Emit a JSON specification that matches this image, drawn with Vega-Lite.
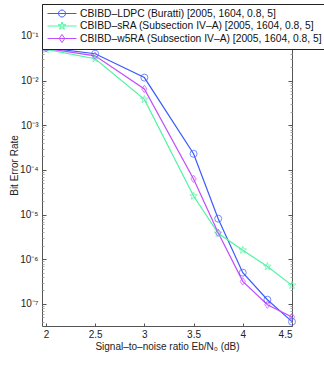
{
  "$schema": "https://vega.github.io/schema/vega-lite/v6.json",
  "width": 250,
  "height": 322,
  "autosize": "none",
  "padding": {"left": 42, "top": 4, "right": 32, "bottom": 44},
  "background": "white",
  "config": {
    "font": "Liberation Sans",
    "view": {"stroke": "#555", "strokeWidth": 1},
    "axis": {"grid": false, "domain": false, "labelFont": "Liberation Sans", "titleFont": "Liberation Sans", "labelColor": "#222", "titleColor": "#222", "labelFontSize": 10, "titleFontSize": 10, "titleFontWeight": "normal"}
  },
  "data": {"values": [
    {"snr": 2.0, "ber": 0.055, "s": "CBIBD–LDPC (Buratti) [2005, 1604, 0.8, 5]"},
    {"snr": 2.5, "ber": 0.040, "s": "CBIBD–LDPC (Buratti) [2005, 1604, 0.8, 5]"},
    {"snr": 3.0, "ber": 0.0117, "s": "CBIBD–LDPC (Buratti) [2005, 1604, 0.8, 5]"},
    {"snr": 3.5, "ber": 0.00023, "s": "CBIBD–LDPC (Buratti) [2005, 1604, 0.8, 5]"},
    {"snr": 3.75, "ber": 8.1e-6, "s": "CBIBD–LDPC (Buratti) [2005, 1604, 0.8, 5]"},
    {"snr": 4.0, "ber": 5.0e-7, "s": "CBIBD–LDPC (Buratti) [2005, 1604, 0.8, 5]"},
    {"snr": 4.25, "ber": 1.24e-7, "s": "CBIBD–LDPC (Buratti) [2005, 1604, 0.8, 5]"},
    {"snr": 4.5, "ber": 4.0e-8, "s": "CBIBD–LDPC (Buratti) [2005, 1604, 0.8, 5]"},
    {"snr": 2.0, "ber": 0.050, "s": "CBIBD–sRA (Subsection IV–A) [2005, 1604, 0.8, 5]"},
    {"snr": 2.5, "ber": 0.031, "s": "CBIBD–sRA (Subsection IV–A) [2005, 1604, 0.8, 5]"},
    {"snr": 3.0, "ber": 0.0038, "s": "CBIBD–sRA (Subsection IV–A) [2005, 1604, 0.8, 5]"},
    {"snr": 3.5, "ber": 2.6e-5, "s": "CBIBD–sRA (Subsection IV–A) [2005, 1604, 0.8, 5]"},
    {"snr": 3.75, "ber": 3.8e-6, "s": "CBIBD–sRA (Subsection IV–A) [2005, 1604, 0.8, 5]"},
    {"snr": 4.0, "ber": 1.6e-6, "s": "CBIBD–sRA (Subsection IV–A) [2005, 1604, 0.8, 5]"},
    {"snr": 4.25, "ber": 6.9e-7, "s": "CBIBD–sRA (Subsection IV–A) [2005, 1604, 0.8, 5]"},
    {"snr": 4.5, "ber": 2.6e-7, "s": "CBIBD–sRA (Subsection IV–A) [2005, 1604, 0.8, 5]"},
    {"snr": 2.0, "ber": 0.053, "s": "CBIBD–w5RA (Subsection IV–A) [2005, 1604, 0.8, 5]"},
    {"snr": 2.5, "ber": 0.036, "s": "CBIBD–w5RA (Subsection IV–A) [2005, 1604, 0.8, 5]"},
    {"snr": 3.0, "ber": 0.0065, "s": "CBIBD–w5RA (Subsection IV–A) [2005, 1604, 0.8, 5]"},
    {"snr": 3.5, "ber": 6.3e-5, "s": "CBIBD–w5RA (Subsection IV–A) [2005, 1604, 0.8, 5]"},
    {"snr": 3.75, "ber": 3.9e-6, "s": "CBIBD–w5RA (Subsection IV–A) [2005, 1604, 0.8, 5]"},
    {"snr": 4.0, "ber": 3.2e-7, "s": "CBIBD–w5RA (Subsection IV–A) [2005, 1604, 0.8, 5]"},
    {"snr": 4.25, "ber": 9.6e-8, "s": "CBIBD–w5RA (Subsection IV–A) [2005, 1604, 0.8, 5]"},
    {"snr": 4.5, "ber": 5.1e-8, "s": "CBIBD–w5RA (Subsection IV–A) [2005, 1604, 0.8, 5]"}
  ]},
  "encoding": {
    "x": {"field": "snr", "type": "quantitative", "axis": null, "scale": {"domain": [1.96, 4.5], "nice": false, "zero": false}},
    "y": {"field": "ber", "type": "quantitative", "axis": null, "scale": {"type": "log", "domain": [3.2e-8, 0.52], "nice": false}},
    "color": {
      "field": "s", "type": "nominal",
      "scale": {"domain": ["CBIBD–LDPC (Buratti) [2005, 1604, 0.8, 5]", "CBIBD–sRA (Subsection IV–A) [2005, 1604, 0.8, 5]", "CBIBD–w5RA (Subsection IV–A) [2005, 1604, 0.8, 5]"], "range": ["#3b5bff", "#4ff5a3", "#c24cff"]},
      "legend": {
        "title": null, "orient": "none", "legendX": 0, "legendY": 0,
        "fillColor": "white", "strokeColor": "#222", "padding": 4,
        "symbolSize": 100, "symbolStrokeWidth": 1, "symbolOffset": 0,
        "labelFont": "Liberation Sans", "labelFontSize": 10.3, "labelColor": "#111", "labelOffset": 23, "rowPadding": 0.5, "labelLimit": 400,
        "encode": {"symbols": {"update": {"shape": {"signal": "indexof(datum.value, 'LDPC') >= 0 ? 'M-0.8,0H5M1.4,0A0.7,0.7 0 1,1 2.8,0A0.7,0.7 0 1,1 1.4,0Z' : (indexof(datum.value, 'sRA') >= 0 ? 'M-0.8,0H5M2.1,-0.8L2.28,-0.247L2.861,-0.247L2.39,0.094L2.57,0.647L2.1,0.306L1.63,0.647L1.81,0.094L1.339,-0.247L1.92,-0.247Z' : 'M-0.8,0H5M2.1,-0.8L2.66,0L2.1,0.8L1.54,0Z')"}}}}
      }
    }
  },
  "layer": [
    {
      "mark": {"type": "line", "strokeWidth": 1.2},
      "encoding": {
        "x": {"field": "snr", "type": "quantitative", "scale": {"domain": [1.96, 4.5], "nice": false, "zero": false}, "axis": {"orient": "bottom", "values": [2, 2.5, 3, 3.5, 4, 4.5], "format": "~g", "title": "Signal–to–noise ratio Eb/N₀ (dB)", "tickSize": -3, "tickColor": "#555", "labelPadding": 6, "titlePadding": 2}},
        "y": {"field": "ber", "type": "quantitative", "scale": {"type": "log", "domain": [3.2e-8, 0.52], "nice": false}, "axis": {"orient": "left", "values": [1e-8, 2e-8, 3e-8, 4e-8, 5e-8, 6e-8, 7e-8, 8e-8, 9e-8, 1e-7, 2e-7, 3e-7, 4e-7, 5e-7, 6e-7, 7e-7, 8e-7, 9e-7, 1e-6, 2e-6, 3e-6, 4e-6, 5e-6, 6e-6, 7e-6, 8e-6, 9e-6, 1e-5, 2e-5, 3e-5, 4e-5, 5e-5, 6e-5, 7e-5, 8e-5, 9e-5, 1e-4, 2e-4, 3e-4, 4e-4, 5e-4, 6e-4, 7e-4, 8e-4, 9e-4, 1e-3, 2e-3, 3e-3, 4e-3, 5e-3, 6e-3, 7e-3, 8e-3, 9e-3, 1e-2, 2e-2, 3e-2, 4e-2, 5e-2, 6e-2, 7e-2, 8e-2, 9e-2, 0.1, 0.2, 0.3, 0.4, 0.5], "labelExpr": "abs(log(datum.value)/LN10 - round(log(datum.value)/LN10)) < 0.001 ? '10' + replace(replace(replace(replace(replace(replace(replace(replace('' + round(log(datum.value)/LN10), '-', '⁻'), '1', '¹'), '2', '²'), '3', '³'), '4', '⁴'), '5', '⁵'), '6', '⁶'), '7', '⁷') : ''", "tickSize": {"condition": {"test": "abs(log(datum.value)/LN10 - round(log(datum.value)/LN10)) < 0.001", "value": -4}, "value": -2}, "tickColor": {"condition": {"test": "abs(log(datum.value)/LN10 - round(log(datum.value)/LN10)) < 0.001", "value": "#555"}, "value": "#aaa"}, "labelPadding": 8, "title": "Bit Error Rate", "titlePadding": 0}}
      }
    },
    {
      "transform": [{"filter": "indexof(datum.s, 'LDPC') >= 0"}],
      "mark": {"type": "point", "filled": false, "strokeWidth": 1, "size": 49, "shape": "circle"}
    },
    {
      "transform": [{"filter": "indexof(datum.s, 'sRA') >= 0"}],
      "mark": {"type": "point", "filled": false, "strokeWidth": 1, "size": 64, "shape": "M0,-1L0.2245,-0.309L0.951,-0.309L0.363,0.118L0.588,0.809L0,0.382L-0.588,0.809L-0.363,0.118L-0.951,-0.309L-0.2245,-0.309Z"}
    },
    {
      "transform": [{"filter": "indexof(datum.s, 'w5RA') >= 0"}],
      "mark": {"type": "point", "filled": false, "strokeWidth": 1, "size": 56, "shape": "M0,-1L0.7,0L0,1L-0.7,0Z"}
    },
    {
      "mark": {"type": "point", "opacity": 0},
      "encoding": {
        "x": {"field": "snr", "type": "quantitative", "scale": {"domain": [1.96, 4.5], "nice": false, "zero": false}, "axis": {"orient": "top", "values": [2, 2.5, 3, 3.5, 4, 4.5], "labels": false, "title": null, "tickSize": -3, "tickColor": "#555"}},
        "y": {"field": "ber", "type": "quantitative", "scale": {"type": "log", "domain": [3.2e-8, 0.52], "nice": false}, "axis": {"orient": "right", "values": [1e-8, 2e-8, 3e-8, 4e-8, 5e-8, 6e-8, 7e-8, 8e-8, 9e-8, 1e-7, 2e-7, 3e-7, 4e-7, 5e-7, 6e-7, 7e-7, 8e-7, 9e-7, 1e-6, 2e-6, 3e-6, 4e-6, 5e-6, 6e-6, 7e-6, 8e-6, 9e-6, 1e-5, 2e-5, 3e-5, 4e-5, 5e-5, 6e-5, 7e-5, 8e-5, 9e-5, 1e-4, 2e-4, 3e-4, 4e-4, 5e-4, 6e-4, 7e-4, 8e-4, 9e-4, 1e-3, 2e-3, 3e-3, 4e-3, 5e-3, 6e-3, 7e-3, 8e-3, 9e-3, 1e-2, 2e-2, 3e-2, 4e-2, 5e-2, 6e-2, 7e-2, 8e-2, 9e-2, 0.1, 0.2, 0.3, 0.4, 0.5], "labels": false, "title": null, "tickSize": {"condition": {"test": "abs(log(datum.value)/LN10 - round(log(datum.value)/LN10)) < 0.001", "value": -4}, "value": -2}, "tickColor": {"condition": {"test": "abs(log(datum.value)/LN10 - round(log(datum.value)/LN10)) < 0.001", "value": "#555"}, "value": "#aaa"}}}
      }
    }
  ],
  "resolve": {"axis": {"x": "independent", "y": "independent"}}
}
